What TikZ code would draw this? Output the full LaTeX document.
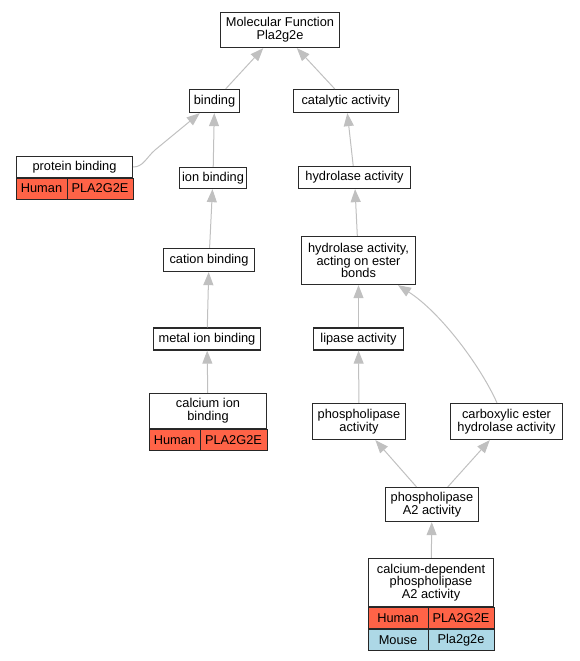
\documentclass[tikz,border=0pt]{standalone}
\usepackage{fontspec}
\setmainfont{Liberation Sans}
\usetikzlibrary{arrows.meta}

\definecolor{boxline}{HTML}{2A2A2A}
\definecolor{edgegray}{HTML}{C0C0C0}
\definecolor{human}{HTML}{FF6347}
\definecolor{mouse}{HTML}{ADD8E6}

\begin{document}
\begin{tikzpicture}[x=1pt, y=-1pt,
    box/.style={draw=boxline, line width=1.3pt, fill=white, inner sep=0pt, align=center,
        font=\fontsize{12.8}{12.7}\selectfont},
    cell/.style={draw=black!85, line width=1pt, inner sep=0pt, minimum height=21pt,
        font=\fontsize{12.8}{12.7}\selectfont},
    edge/.style={draw=edgegray, line width=1pt, -{Triangle[length=13pt,width=10pt]}}]

    % 1. Fix the frame
    \useasboundingbox (0,0) rectangle (579,661);

    % 2. Term boxes, left branch
    \node[box, minimum width=119pt, minimum height=35pt] (MF) at (280,30) {Molecular Function\\Pla2g2e};
    \node[box, minimum width=50pt, minimum height=23pt] (Bind) at (214.5,101) {binding};
    \node[box, minimum width=116pt, minimum height=21pt] (Prot) at (74.5,167) {protein binding};
    \node[cell, fill=human, minimum width=51pt] (ProtH) at (41.5,188.5) {Human};
    \node[cell, fill=human, minimum width=66pt] (ProtG) at (100,188.5) {PLA2G2E};
    \node[box, minimum width=67pt, minimum height=21pt] (Ion) at (213,178) {ion binding};
    \node[box, minimum width=91pt, minimum height=23pt] (Cation) at (209,260) {cation binding};
    \node[box, minimum width=107pt, minimum height=22pt] (Metal) at (207,339) {metal ion binding};
    \node[box, minimum width=117pt, minimum height=35pt] (Calc) at (208,411) {calcium ion\\binding};
    \node[cell, fill=human, minimum width=51pt] (CalcH) at (174.5,440) {Human};
    \node[cell, fill=human, minimum width=67pt] (CalcG) at (233.5,440) {PLA2G2E};

    % 3. Term boxes, right branch
    \node[box, minimum width=105pt, minimum height=23pt] (Cat) at (346,101) {catalytic activity};
    \node[box, minimum width=112pt, minimum height=22pt] (Hyd) at (354.5,177.5) {hydrolase activity};
    \node[box, minimum width=114pt, minimum height=48pt] (Ester) at (358.5,260.5) {hydrolase activity,\\acting on ester\\bonds};
    \node[box, minimum width=90pt, minimum height=22pt] (Lip) at (358.5,339) {lipase activity};
    \node[box, minimum width=93pt, minimum height=36pt] (Phos) at (359,421.5) {phospholipase\\activity};
    \node[box, minimum width=112pt, minimum height=36pt] (Carb) at (506.5,421.5) {carboxylic ester\\hydrolase activity};
    \node[box, minimum width=93pt, minimum height=34pt] (PA2) at (432,504.5) {phospholipase\\A2 activity};
    \node[box, minimum width=125pt, minimum height=48pt] (CaPA2) at (431,582.5) {calcium-dependent\\phospholipase\\A2 activity};
    \node[cell, fill=human, minimum width=60pt] (CaPA2H) at (398,618) {Human};
    \node[cell, fill=human, minimum width=66pt] (CaPA2G) at (461,618) {PLA2G2E};
    \node[cell, fill=mouse, minimum width=60pt] (CaPA2M) at (398,640) {Mouse};
    \node[cell, fill=mouse, minimum width=66pt] (CaPA2g) at (461,640) {Pla2g2e};

    % 4. is-a links, child to parent
    \draw[edge] (Bind) -- (MF);
    \draw[edge] (Cat) -- (MF);
    \draw[edge] (Prot.east) .. controls +(10,0) and +(-9,8) .. (155,150) -- (Bind);
    \draw[edge] (Ion) -- (Bind);
    \draw[edge] (Cation) -- (Ion);
    \draw[edge] (Metal) -- (Cation);
    \draw[edge] (Calc) -- (Metal);
    \draw[edge] (Hyd) -- (Cat);
    \draw[edge] (Ester) -- (Hyd);
    \draw[edge] (Lip) -- (Ester);
    \draw[edge] (Phos) -- (Lip);
    \draw[edge] (Carb.117) .. controls (480,365) and (440,312) .. (Ester.-32);
    \draw[edge] (PA2) -- (Phos);
    \draw[edge] (PA2) -- (Carb);
    \draw[edge] (CaPA2) -- (PA2);

\end{tikzpicture}
\end{document}
